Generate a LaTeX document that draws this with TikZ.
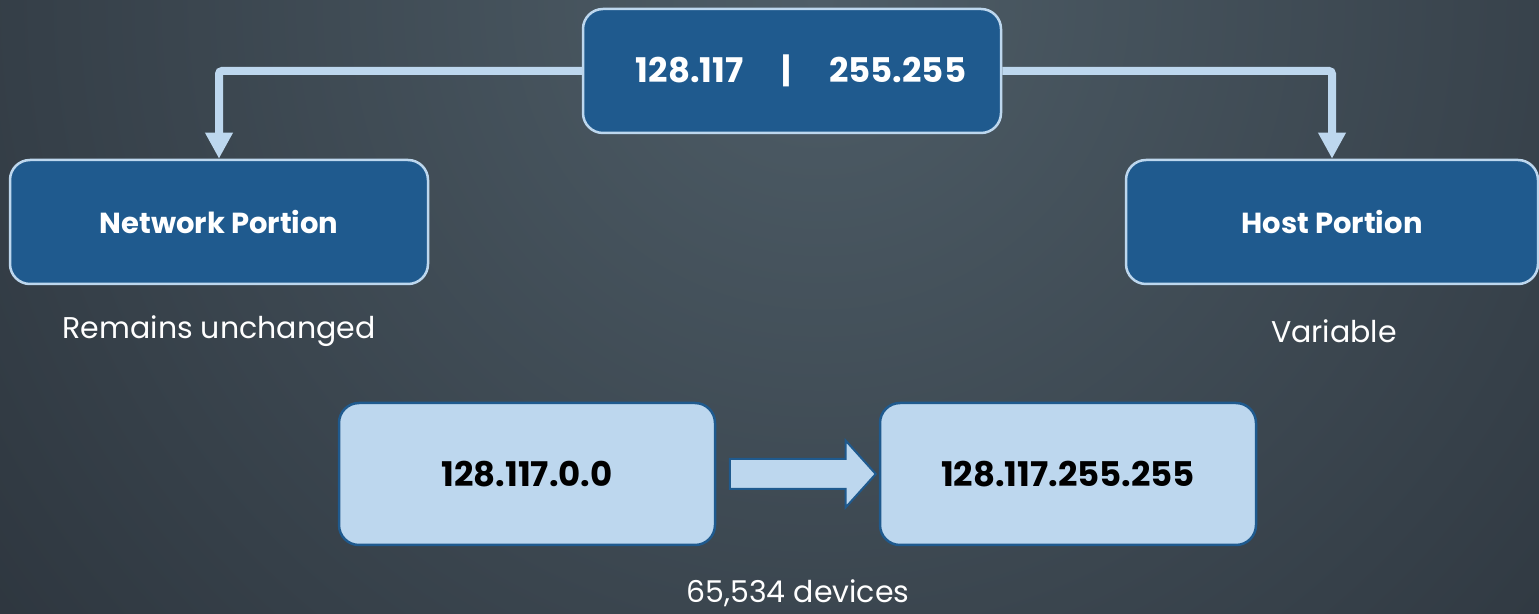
\documentclass[tikz,border=0pt]{standalone}
\usepackage{fontspec}
\setmainfont{Poppins}
\usepackage{tikz}
\usepackage{xcolor}
\usetikzlibrary{arrows.meta,shapes.arrows}
\definecolor{BgIn}{HTML}{4E5D67}
\definecolor{BgOut}{HTML}{1E232B}
\definecolor{DarkBlueBox}{HTML}{1F5A8E}
\definecolor{LightBlueBox}{HTML}{BDD7EE}
\newcommand\nodeaddr{\hspace*{18pt}128.117\hspace{38pt}|\hspace{38pt}255.255}
\newcommand\nodenp{Network Portion}
\newcommand\nodehp{Host Portion}
\newcommand\nodefirst{128.117.0.0}
\newcommand\nodelast{128.117.255.255}
\tikzstyle{boxstyle} = [rectangle, rounded corners=20pt, line width=2.5pt, inner sep=0pt, font=\bfseries\fontsize{29}{34}\selectfont]
\tikzstyle{db} = [boxstyle, draw=LightBlueBox, fill=DarkBlueBox, text=white, minimum width=418pt, minimum height=124pt]
\tikzstyle{lb} = [boxstyle, draw=DarkBlueBox, fill=LightBlueBox, text=black, minimum width=376pt, minimum height=142pt]
\tikzstyle{numfont} = [font=\bfseries\fontsize{34}{40}\selectfont]
\tikzstyle{caption} = [text=white, font=\fontsize{30}{36}\selectfont]
\tikzstyle{conn} = [draw=LightBlueBox, line width=8pt, rounded corners=3pt]
\tikzset{>={Triangle[width=26pt,length=26pt]}}

\begin{document}
\begin{tikzpicture}[x=1pt,y=1pt]
\useasboundingbox (0,0) rectangle (1539,613);
\begin{scope}
\clip (0,0) rectangle (1539,613);
\shade[inner color=BgIn, outer color=BgOut] (820,613) circle (1560);
\end{scope}
\node[db, numfont] (addr) at (792, 542) {\nodeaddr};
\node[db] (np) at (219, 391) {\nodenp};
\node[db, minimum width=412pt] (hp) at (1332, 391) {\nodehp};
\node[lb, numfont] (first) at (527, 139) {\nodefirst};
\node[lb, numfont] (last) at (1068, 139) {\nodelast};
\node[single arrow, draw=DarkBlueBox, fill=LightBlueBox, line width=2pt, inner sep=0pt, inner ysep=14pt, minimum height=146pt, single arrow head extend=18.5pt, single arrow tip angle=96] (step1) at (796, 139) {};
\node[caption] (np label) at (219, 282) {Remains unchanged};
\node[caption] (hp label) at (1334, 282) {Variable};
\node[caption] (count) at (798, 20) {65,534 devices};
\draw [conn, ->] (addr.west) -| (np.north);
\draw [conn, ->] (addr.east) -| (hp.north);
\end{tikzpicture}
\end{document}
